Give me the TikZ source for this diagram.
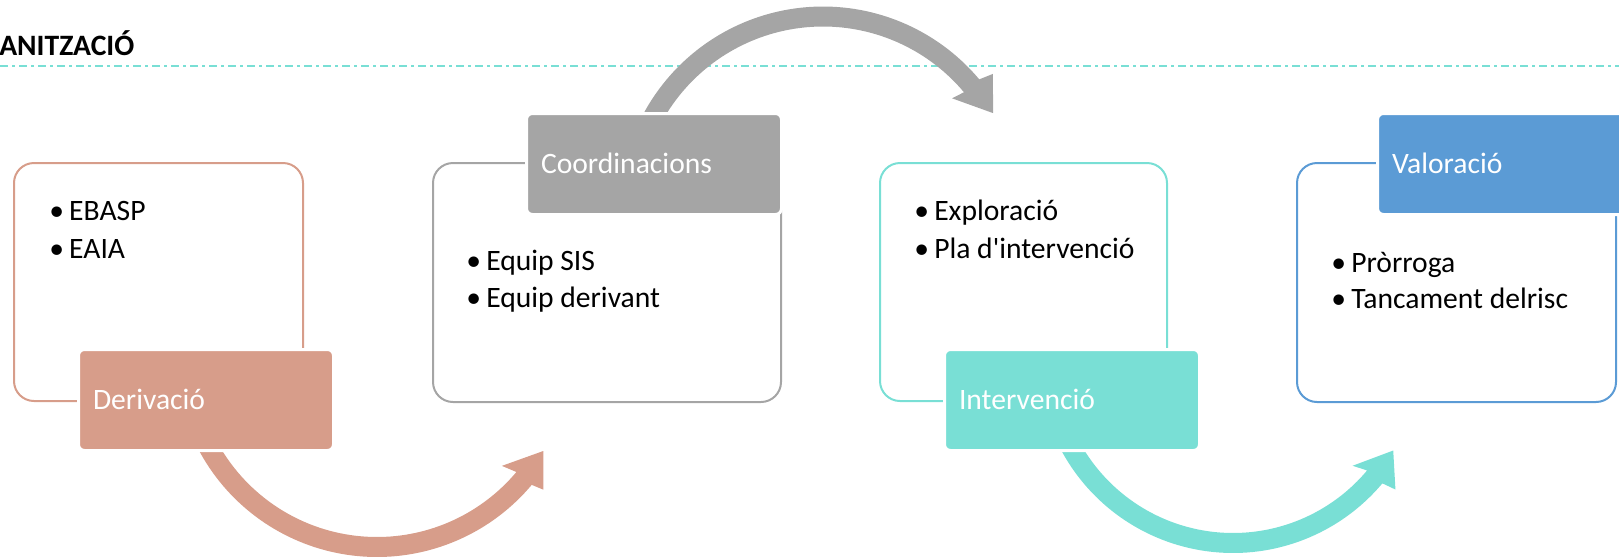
\documentclass[tikz,border=0pt]{standalone}
\usepackage{fontspec}
\setmainfont{Carlito}[Ligatures=TeXOff]
\definecolor{salmon}{HTML}{D79D8A}
\definecolor{greyb}{HTML}{A5A5A5}
\definecolor{turq}{HTML}{79DFD5}
\definecolor{blueb}{HTML}{5B9BD5}
\begin{document}
\begin{tikzpicture}[x=0.75pt,y=-0.75pt,
  outline/.style={draw=#1, line width=1.5pt, rounded corners=15pt, inner sep=0pt, fill=none},
  labelbox/.style={fill=#1, draw=white, line width=2.25pt, rounded corners=4.5pt,
    minimum width=255*0.75pt, minimum height=101*0.75pt,
    text width=226*0.75pt, inner xsep=14.5*0.75pt, inner ysep=0pt, align=left,
    text height=14pt, text depth=0pt, text=white, font=\fontsize{22.2}{26}\selectfont},
  item/.style={anchor=base west, inner sep=0pt, font=\fontsize{22.2}{26}\selectfont}
]
\useasboundingbox (0,0) rectangle (1619,558);

% title and dashed rule
\node[anchor=base west, inner sep=0pt, font=\fontsize{22.2}{26}\selectfont\bfseries] (title) at (-1,55) {ANITZACIÓ};
\coordinate (ruleL) at (0,66);
\coordinate (ruleR) at (1619,66);
\draw[turq, line width=1.6pt, dash pattern=on 6pt off 3pt on 2.25pt off 3pt] (ruleL) -- (ruleR);

% curved block arrows (drawn first, tails hidden under boxes)
% arrow 1: salmon, bottom
\fill[salmon]
  plot[domain=165:40, samples=80] ({377+202*cos(\x)},{355+202*sin(\x)})
  -- ({377+214*cos(39)},{355+214*sin(39)})
  -- ({377+192*cos(30)},{355+192*sin(30)})
  -- ({377+167*cos(41.6)},{355+167*sin(41.6)})
  -- plot[domain=40:165, samples=80] ({377+182*cos(\x)},{355+182*sin(\x)}) -- cycle;
% arrow 3: turquoise, bottom
\fill[turq]
  plot[domain=165:40, samples=80] ({1233+195*cos(\x)},{358+195*sin(\x)})
  -- ({1233+209*cos(39)},{358+209*sin(39)})
  -- ({1233+185*cos(30)},{358+185*sin(30)})
  -- ({1233+161*cos(42)},{358+161*sin(42)})
  -- plot[domain=40:165, samples=80] ({1233+175*cos(\x)},{358+175*sin(\x)}) -- cycle;
% arrow 2: grey, top
\fill[greyb]
  plot[domain=-160:-40, samples=80] ({823+204*cos(\x)},{210.5+204*sin(\x)})
  -- ({823+218*cos(-38.8)},{210.5+218*sin(-38.8)})
  -- ({823+196*cos(-29.8)},{210.5+196*sin(-29.8)})
  -- ({823+171*cos(-41)},{210.5+171*sin(-41)})
  -- plot[domain=-40:-160, samples=80] ({823+184*cos(\x)},{210.5+184*sin(\x)}) -- cycle;

% outline boxes
\node[outline=salmon, minimum width=289*0.75pt, minimum height=238*0.75pt] (o1) at (158.5,282) {};
\node[outline=greyb, minimum width=348*0.75pt, minimum height=239*0.75pt] (o2) at (607,282.5) {};
\node[outline=turq, minimum width=287*0.75pt, minimum height=238*0.75pt] (o3) at (1023.5,282) {};
\node[outline=blueb, minimum width=319*0.75pt, minimum height=239*0.75pt] (o4) at (1456.5,282.5) {};

% label boxes
\node[labelbox=salmon] (l1) at (206,400) {Derivació};
\node[labelbox=greyb] (l2) at (654,164) {Coordinacions};
\node[labelbox=turq] (l3) at (1072,400) {Intervenció};
\node[labelbox=blueb] (l4) at (1505,164) {Valoració};

% bullet items
\node[item] (t1a) at (69,220) {\llap{\makebox[15pt][l]{•}}EBASP};
\node[item] (t1b) at (69,258) {\llap{\makebox[15pt][l]{•}}EAIA};
\node[item] (t2a) at (486,270) {\llap{\makebox[15pt][l]{•}}Equip SIS};
\node[item] (t2b) at (486,307) {\llap{\makebox[15pt][l]{•}}Equip derivant};
\node[item] (t3a) at (934,220) {\llap{\makebox[15pt][l]{•}}Exploració};
\node[item] (t3b) at (934,258) {\llap{\makebox[15pt][l]{•}}Pla d'intervenció};
\node[item] (t4a) at (1351,272) {\llap{\makebox[15pt][l]{•}}Pròrroga};
\node[item] (t4b) at (1351,308) {\llap{\makebox[15pt][l]{•}}Tancament delrisc};
\end{tikzpicture}
\end{document}
